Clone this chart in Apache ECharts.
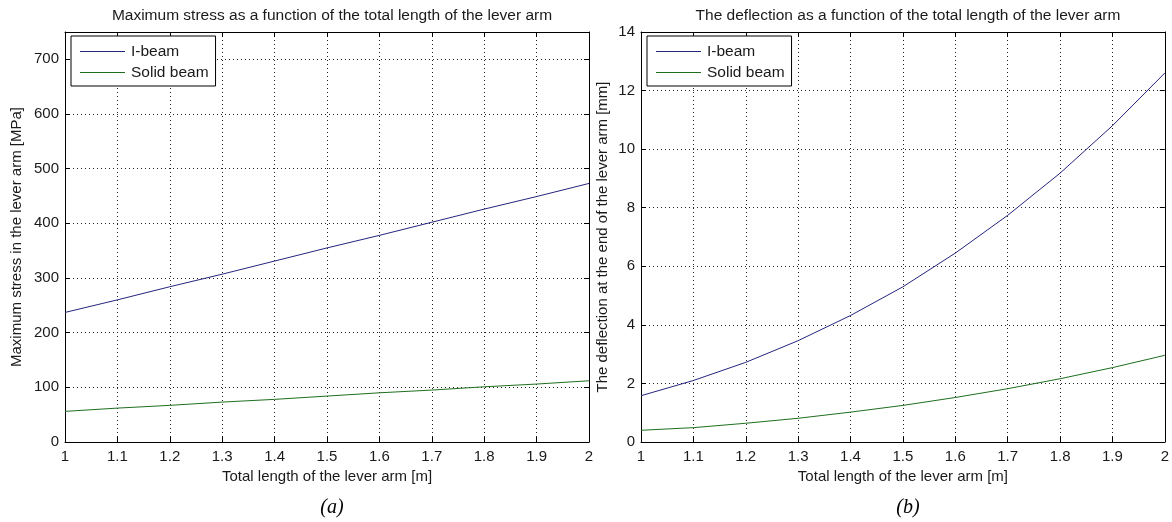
<!DOCTYPE html>
<html>
<head>
<meta charset="utf-8">
<script src="https://cdn.jsdelivr.net/npm/echarts@6/dist/echarts.min.js"></script>
<style>
  html, body { margin: 0; padding: 0; background: #fff; }
  #chart { width: 1172px; height: 522px; }
</style>
</head>
<body>
<div id="chart"></div>
<script>
// Total length of the lever arm [m]
const lengths = [1.0, 1.1, 1.2, 1.3, 1.4, 1.5, 1.6, 1.7, 1.8, 1.9, 2.0];

// Maximum stress in the lever arm [MPa]
const stressIBeam = [237, 260, 284, 307, 331, 355, 378, 402, 426, 449, 473];
const stressSolid = [56, 62, 67, 73, 78, 84, 90, 95, 101, 106, 112];

// Deflection at the end of the lever arm [mm]
const deflIBeam = [1.58, 2.10, 2.72, 3.46, 4.32, 5.30, 6.45, 7.74, 9.18, 10.8, 12.6];
const deflSolid = [0.40, 0.49, 0.64, 0.81, 1.02, 1.25, 1.52, 1.82, 2.16, 2.54, 2.96];

const seriesNames = ['I-beam', 'Solid beam'];
const titles = [
  'Maximum stress as a function of the total length of the lever arm',
  'The deflection as a function of the total length of the lever arm'
];
const xName = 'Total length of the lever arm [m]';
const yNames = ['Maximum stress in the lever arm [MPa]', 'The deflection at the end of the lever arm [mm]'];
const captions = ['(a)', '(b)'];

const FONT = 'Liberation Sans, Arial, Helvetica, sans-serif';
const FS = 15;
const TXT = '#1a1a1a';
const BLUE = '#25257f';
const GREEN = '#1e6e1e';
const GRID_DOT = '#222';

const grids = [
  { left: 65, top: 32, width: 524, height: 410 },
  { left: 641, top: 32, width: 524, height: 410 }
];
const yRanges = [
  { min: 0, max: 750, interval: 100 },
  { min: 0, max: 14, interval: 2 }
];

function pairs(xs, ys) { return xs.map((x, i) => [x, ys[i]]); }

const xAxes = [], yAxes = [];
grids.forEach((g, gi) => {
  const tickIn = { show: true, inside: true, length: 5, lineStyle: { color: '#000', width: 1 } };
  // bottom x axis with labels and grid
  xAxes.push({
    gridIndex: gi, type: 'value', position: 'bottom',
    min: 1, max: 2, interval: 0.1,
    name: xName, nameLocation: 'middle', nameGap: 26,
    nameTextStyle: { fontFamily: FONT, fontSize: FS, color: TXT },
    axisLine: { show: true, onZero: false, lineStyle: { color: '#000', width: 1 } },
    axisTick: tickIn,
    axisLabel: { margin: 7, fontFamily: FONT, fontSize: FS, color: TXT,
      formatter: v => (Math.round(v * 10) / 10).toString() },
    splitLine: { show: true, lineStyle: { color: GRID_DOT, width: 1, type: [1, 3] } }
  });
  // top x axis: ticks only
  xAxes.push({
    gridIndex: gi, type: 'value', position: 'top',
    min: 1, max: 2, interval: 0.1,
    axisLine: { show: true, onZero: false, lineStyle: { color: '#000', width: 1 } },
    axisTick: tickIn, axisLabel: { show: false }, splitLine: { show: false }
  });
  const yr = yRanges[gi];
  yAxes.push({
    gridIndex: gi, type: 'value', position: 'left',
    min: yr.min, max: yr.max, interval: yr.interval,
    name: yNames[gi], nameLocation: 'middle', nameRotate: 90,
    nameGap: gi === 0 ? 41 : 31,
    nameTextStyle: { fontFamily: FONT, fontSize: FS, color: TXT },
    axisLine: { show: true, onZero: false, lineStyle: { color: '#000', width: 1 } },
    axisTick: tickIn,
    axisLabel: { margin: 6, fontFamily: FONT, fontSize: FS, color: TXT,
      formatter: v => (v % yr.interval === 0 ? String(v) : '') },
    splitLine: { show: true, lineStyle: { color: GRID_DOT, width: 1, type: [1, 3] } }
  });
  yAxes.push({
    gridIndex: gi, type: 'value', position: 'right',
    min: yr.min, max: yr.max, interval: yr.interval,
    axisLine: { show: true, onZero: false, lineStyle: { color: '#000', width: 1 } },
    axisTick: tickIn, axisLabel: { show: false }, splitLine: { show: false }
  });
});

function lineSeries(name, color, gi, ys) {
  return {
    name, type: 'line', xAxisIndex: gi * 2, yAxisIndex: gi * 2,
    data: pairs(lengths, ys), symbol: 'none', showSymbol: false, smooth: false,
    lineStyle: { color, width: 1 }, itemStyle: { color }, silent: true, animation: false
  };
}

const titleComps = [];
grids.forEach((g, gi) => {
  titleComps.push({
    text: titles[gi], left: g.left + g.width / 2, top: 3, textAlign: 'center',
    textStyle: { fontFamily: FONT, fontSize: 15.5, fontWeight: 'normal', color: TXT }
  });
  titleComps.push({
    text: captions[gi], left: g.left + g.width / 2, top: 493, textAlign: 'center',
    textStyle: { fontFamily: 'Liberation Serif, Times New Roman, serif', fontSize: 20,
      fontStyle: 'italic', fontWeight: 'normal', color: '#000' }
  });
});

// legend entries drawn as thin line samples next to the names
const legends = grids.map(g => ({
  data: seriesNames, orient: 'vertical', left: g.left + 6, top: 36,
  padding: [7, 7, 5, 9], icon: 'rect', itemWidth: 45, itemHeight: 1, itemGap: 4,
  backgroundColor: '#fff', borderColor: '#000', borderWidth: 1, borderRadius: 0,
  selectedMode: false,
  textStyle: { fontFamily: FONT, fontSize: 15.5, color: TXT, padding: [0, 0, 0, 1], lineHeight: 17 }
}));

const chart = echarts.init(document.getElementById('chart'), null, { renderer: 'canvas' });
chart.setOption({
  animation: false,
  backgroundColor: '#fff',
  title: titleComps,
  legend: legends,
  grid: grids.map(g => Object.assign({ containLabel: false }, g)),
  xAxis: xAxes,
  yAxis: yAxes,
  series: [
    lineSeries(seriesNames[0], BLUE, 0, stressIBeam),
    lineSeries(seriesNames[1], GREEN, 0, stressSolid),
    lineSeries(seriesNames[0], BLUE, 1, deflIBeam),
    lineSeries(seriesNames[1], GREEN, 1, deflSolid)
  ]
});
</script>
</body>
</html>
